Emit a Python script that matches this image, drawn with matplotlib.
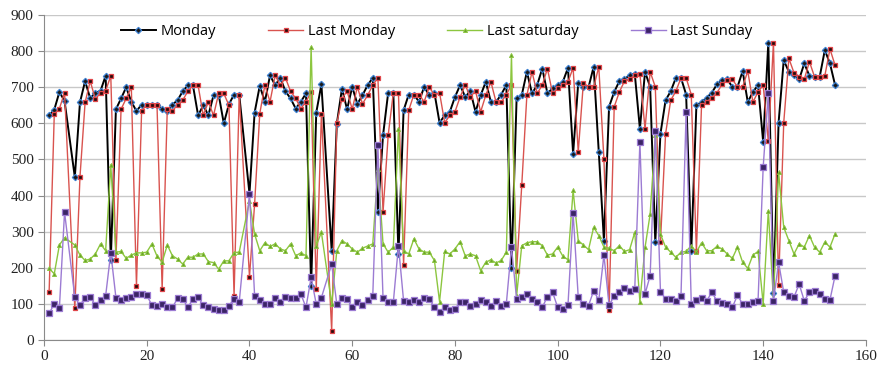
import matplotlib
matplotlib.use("Agg")
import matplotlib.pyplot as plt

# day index, a few days have no record (5, 39, 55)
days = [d for d in range(1, 155) if d not in (5, 39, 55)]

monday = [
    622, 638, 687, 662, 451, 658, 717, 669, 685,
    690, 732, 220, 639, 669, 700, 660, 634, 652, 650,
    650, 650, 640, 634, 652, 664, 689, 705, 705, 622,
    650, 622, 678, 680, 600, 653, 680, 680, 405,
    630, 704, 660, 733, 706, 726, 689, 669, 641, 660,
    683, 150, 630, 708, 247, 599, 696, 639, 701,
    654, 678, 706, 726, 354, 567, 685, 685, 238, 636,
    680, 680, 660, 701, 678, 685, 602, 622, 632, 673,
    706, 673, 690, 632, 678, 715, 659, 659, 680, 706,
    200, 669, 678, 743, 683, 706, 752, 683, 697, 706,
    715, 754, 516, 713, 701, 700, 757, 520, 275, 646,
    687, 717, 722, 734, 738, 585, 743, 701, 270, 571,
    664, 689, 726, 726, 680, 245, 650, 659, 671, 685,
    708, 720, 722, 701, 701, 745, 659, 687, 706, 548,
    824, 130, 602, 775, 743, 734, 722, 766, 732, 729,
    729, 803, 766, 706,
]

last_monday = [
    134, 625, 641, 685, 87, 451, 658, 717, 667,
    685, 690, 732, 220, 639, 669, 700, 150, 634, 652,
    650, 650, 141, 640, 634, 652, 664, 689, 705, 705,
    622, 660, 622, 683, 683, 650, 122, 680, 175,
    377, 627, 706, 660, 733, 706, 726, 689, 669, 641,
    660, 687, 141, 627, 25, 600, 668, 690, 639,
    701, 654, 678, 706, 726, 354, 567, 685, 685, 208,
    636, 680, 680, 660, 701, 678, 685, 602, 622, 632,
    673, 706, 673, 690, 632, 678, 715, 659, 659, 680,
    706, 192, 428, 678, 743, 683, 706, 752, 683, 697,
    706, 715, 754, 521, 713, 701, 700, 757, 500, 83,
    646, 687, 717, 722, 734, 738, 585, 743, 701, 270,
    571, 664, 689, 726, 726, 680, 245, 650, 659, 671,
    685, 708, 720, 722, 701, 701, 745, 659, 687, 706,
    550, 824, 152, 602, 780, 740, 729, 722, 771, 729,
    729, 732, 806, 761,
]

last_saturday = [
    198, 183, 263, 283, 263, 235, 220, 224, 238,
    266, 247, 485, 243, 245, 226, 235, 241, 241, 243,
    266, 232, 215, 263, 233, 224, 210, 229, 229, 238,
    238, 217, 214, 196, 219, 219, 242, 243, 386,
    293, 247, 269, 259, 266, 252, 247, 266, 233, 241,
    233, 812, 261, 298, 99, 247, 275, 266, 252,
    243, 254, 260, 266, 474, 266, 243, 257, 585, 247,
    238, 280, 252, 243, 243, 220, 106, 245, 238, 252,
    272, 233, 238, 233, 192, 215, 222, 213, 220, 243,
    790, 122, 261, 269, 272, 272, 261, 235, 238, 257,
    232, 222, 414, 275, 263, 250, 312, 289, 257, 254,
    247, 261, 245, 250, 298, 106, 256, 349, 567, 293,
    257, 243, 229, 243, 245, 261, 243, 269, 247, 247,
    259, 252, 238, 226, 257, 215, 198, 235, 245, 99,
    358, 110, 465, 312, 275, 238, 266, 257, 289, 257,
    243, 271, 257, 294,
]

last_sunday = [
    74, 99, 89, 354, 118, 96, 117, 118, 97,
    110, 122, 242, 117, 110, 117, 120, 126, 127, 124,
    96, 95, 99, 90, 90, 115, 113, 90, 113, 118,
    96, 90, 85, 83, 83, 95, 113, 104, 405,
    122, 111, 99, 99, 115, 106, 120, 115, 115, 127,
    90, 173, 99, 117, 210, 99, 117, 113, 90,
    106, 96, 111, 122, 539, 115, 104, 104, 261, 108,
    104, 111, 106, 115, 113, 90, 78, 90, 83, 85,
    106, 106, 95, 99, 111, 104, 95, 108, 95, 100,
    257, 113, 118, 127, 113, 104, 90, 120, 132, 90,
    85, 96, 352, 118, 99, 95, 136, 110, 235, 96,
    122, 132, 145, 136, 141, 548, 127, 178, 578, 134,
    113, 113, 108, 122, 631, 100, 111, 115, 108, 132,
    108, 102, 99, 90, 124, 99, 99, 106, 108, 479,
    683, 108, 215, 132, 122, 118, 155, 108, 132, 136,
    127, 113, 111, 178,
]

fig = plt.figure(figsize=(8.8, 3.69), dpi=100)
ax = fig.add_axes([0.05, 0.079, 0.934, 0.880])

ax.plot(days, monday, color="black", lw=1.4, marker="D", ms=3.2,
        mfc="#1a1a1a", mec="#3b7fd0", mew=0.9, label="Monday", zorder=3)
ax.plot(days, last_monday, color="#d9534f", lw=1.0, marker="s", ms=3.4,
        mfc="#2a0a0a", mec="#e0464a", mew=0.9, label="Last Monday", zorder=4)
ax.plot(days, last_saturday, color="#8cc63f", lw=1.0, marker="^", ms=3.0,
        mfc="#6aa32a", mec="#8cc63f", mew=0.6, label="Last saturday", zorder=5)
ax.plot(days, last_sunday, color="#9c7bd3", lw=1.0, marker="s", ms=3.8,
        mfc="#3b2466", mec="#9c7bd3", mew=0.9, label="Last Sunday", zorder=6)

ax.set_xlim(0, 160)
ax.set_ylim(0, 900)
ax.set_xticks(range(0, 161, 20))
ax.set_yticks(range(0, 901, 100))
ax.yaxis.grid(True, color="#c8c8c8", lw=1.0)
ax.set_axisbelow(True)
for s in ("top", "right"):
    ax.spines[s].set_visible(False)
for s in ("left", "bottom"):
    ax.spines[s].set_color("#8a8a8a")
ax.tick_params(axis="both", colors="#8a8a8a", length=4, labelsize=11,
               labelcolor="#222222")
for lab in ax.get_xticklabels() + ax.get_yticklabels():
    lab.set_family("Liberation Serif")

leg = ax.legend(loc="upper left", bbox_to_anchor=(0.083, 1.0), ncol=4,
                frameon=False, fontsize=10.5, handlelength=2.4,
                columnspacing=3.6, handletextpad=0.3, borderaxespad=0.2)
for t in leg.get_texts():
    t.set_family("Open Sans")

fig.savefig("out.png", dpi=100)
